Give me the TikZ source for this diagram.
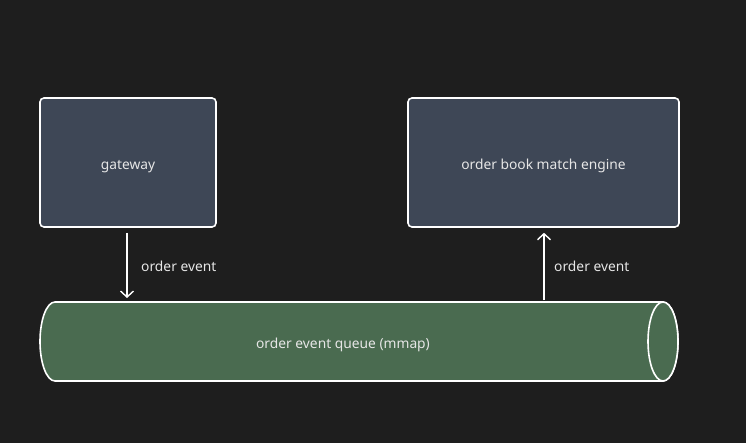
\documentclass[tikz,border=0pt]{standalone}
\usepackage{fontspec}
\setmainfont{Noto Sans}
\usetikzlibrary{arrows.meta}
\definecolor{bg}{HTML}{1E1E1E}
\definecolor{boxfill}{HTML}{3E4756}
\definecolor{queuefill}{HTML}{4A6B50}
\definecolor{txt}{HTML}{E6E6E6}
\tikzset{
  txtfont/.style={text=txt, font=\fontsize{13.8}{16}\selectfont},
  svc/.style={draw=white, line width=1.6pt, fill=boxfill, rounded corners=4pt, txtfont, inner sep=0pt, text height=14pt, text depth=0pt},
  flow/.style={draw=white, line width=1.4pt, -{Straight Barb[length=6pt,width=13pt,line width=1.4pt]}},
  lbl/.style={txtfont, inner sep=0pt, anchor=west},
  tube/.style={draw=white, line width=1.6pt, fill=queuefill},
}
\begin{document}
\begin{tikzpicture}[x=1pt,y=-1pt]
\fill[bg] (0,0) rectangle (746,443);
\useasboundingbox (0,0) rectangle (746,443);
\node[svc, minimum width=176pt, minimum height=129pt] (gateway) at (128,162.5) {gateway};
\node[svc, minimum width=271pt, minimum height=129pt] (engine) at (543.5,162.5) {order book match engine};
% queue cylinder
\node[minimum width=638pt, minimum height=79pt, inner sep=0pt] (queue) at (359,341.5) {};
\path[tube] (55,302) arc[start angle=270, end angle=90, x radius=15, y radius=39.5]
  -- (663,381) arc[start angle=90, end angle=-90, x radius=15, y radius=39.5] -- cycle;
\draw[tube] (663,341.5) ellipse[x radius=15, y radius=39.5];
\node[txtfont] (qlabel) at (343,345) {order event queue (mmap)};
\coordinate (gin) at (127,298);
\draw[flow, shorten <=5pt] (gateway.south -| gin) -- (gin);
\coordinate (eout) at (544,300);
\draw[flow, shorten >=5pt] (eout) -- (engine.south -| eout);
\node[lbl] (l1) at (141,266) {order event};
\node[lbl] (l2) at (554,266) {order event};
\end{tikzpicture}
\end{document}
